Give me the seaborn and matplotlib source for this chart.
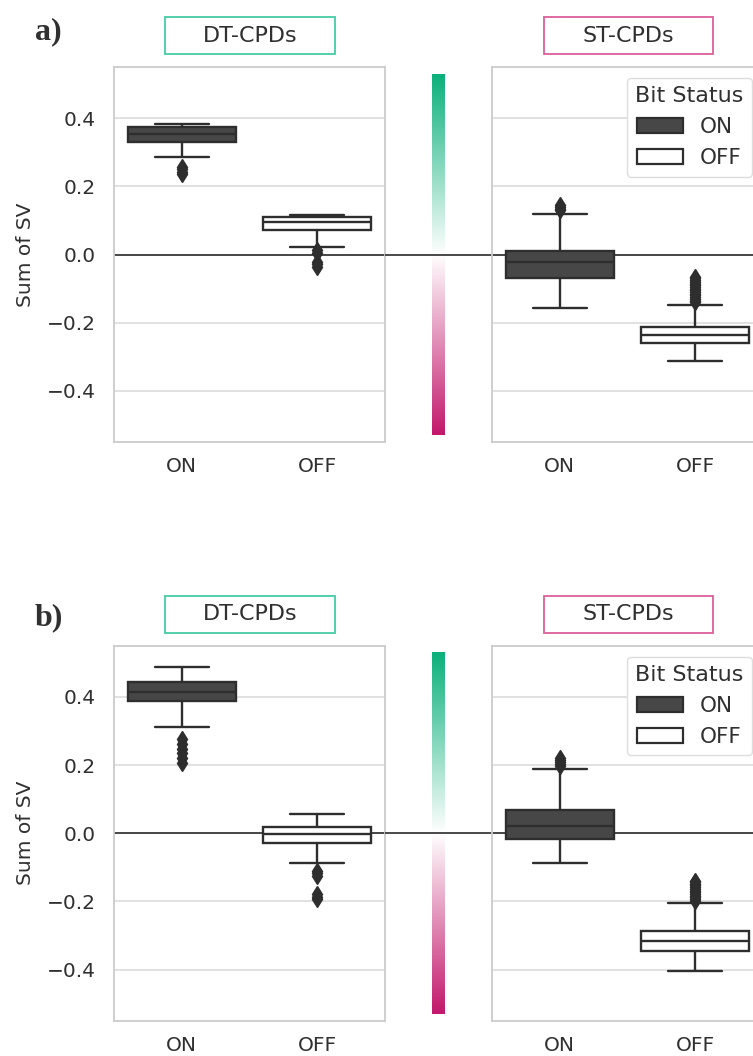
import numpy as np
import pandas as pd
import seaborn as sns
import matplotlib.pyplot as plt
from matplotlib.colors import LinearSegmentedColormap
from matplotlib.patches import Patch, Rectangle

groups = ["DT-CPDs", "ST-CPDs"]
status = ["ON", "OFF"]
panel_labels = ["a)", "b)"]
group_edge = ["#45cca5", "#dc5f9c"]
box_fill = {"ON": "#474747", "OFF": "#ffffff"}

# box stats, order: DT-ON, DT-OFF, ST-ON, ST-OFF
a_whislo = [0.287, 0.023, -0.156, -0.312]
a_q1 = [0.329, 0.072, -0.068, -0.260]
a_med = [0.353, 0.096, -0.023, -0.237]
a_q3 = [0.375, 0.109, 0.010, -0.213]
a_whishi = [0.384, 0.116, 0.119, -0.148]
a_fliers = [
    [0.257, 0.250, 0.243, 0.236],
    [0.012, 0.005, -0.022, -0.029, -0.036],
    [0.130, 0.135, 0.140, 0.145],
    [-0.140, -0.135, -0.130, -0.125, -0.120, -0.115, -0.110, -0.105,
     -0.100, -0.095, -0.090, -0.085, -0.080, -0.075, -0.070, -0.065],
]

b_whislo = [0.313, -0.086, -0.087, -0.403]
b_q1 = [0.387, -0.0275, -0.016, -0.344]
b_med = [0.415, -0.002, 0.022, -0.317]
b_q3 = [0.443, 0.0195, 0.068, -0.287]
b_whishi = [0.489, 0.0557, 0.1886, -0.204]
b_fliers = [
    [0.275, 0.262, 0.248, 0.234, 0.220, 0.206],
    [-0.110, -0.118, -0.126, -0.178, -0.186, -0.194],
    [0.198, 0.204, 0.210, 0.216, 0.222],
    [-0.198, -0.193, -0.188, -0.183, -0.178, -0.173, -0.168, -0.163,
     -0.158, -0.153, -0.148, -0.143, -0.140],
]


def box_rows(whislo, q1, med, q3, whishi, fliers):
    # rebuild a sample whose quartiles / whiskers / fliers match the read stats
    rows = []
    for i in range(4):
        n = len(fliers[i]) + 5
        vals = fliers[i] + [whislo[i], whishi[i]] + [q1[i]] * n + [med[i]] * n + [q3[i]] * n
        for v in vals:
            rows.append({"group": groups[i // 2], "Bit Status": status[i % 2], "Sum of SV": v})
    return pd.DataFrame(rows)


panels = [box_rows(a_whislo, a_q1, a_med, a_q3, a_whishi, a_fliers),
          box_rows(b_whislo, b_q1, b_med, b_q3, b_whishi, b_fliers)]

sns.set_theme(style="whitegrid")
plt.rcParams["font.family"] = ["DejaVu Sans"]
plt.rcParams["text.color"] = "#303030"
plt.rcParams["xtick.color"] = "#303030"
plt.rcParams["ytick.color"] = "#303030"
plt.rcParams["axes.labelcolor"] = "#303030"

line_c = "#2e2e2e"
fs = 14.5

green_cmap = LinearSegmentedColormap.from_list("g", ["#ffffff", "#0ab07a"])
pink_cmap = LinearSegmentedColormap.from_list("p", ["#c2176b", "#ffffff"])
gradient = np.linspace(0, 1, 256).reshape(-1, 1)

fig = plt.figure(figsize=(7.53, 10.56), dpi=100)
row_bottom = [0.5814, 0.0334]
row_label_y = [0.963, 0.408]
h = 0.3551

for r, df in enumerate(panels):
    b = row_bottom[r]
    ax_l = fig.add_axes([0.1514, b, 0.3599, h])
    ax_m = fig.add_axes([0.5113, b, 0.1421, h])
    ax_r = fig.add_axes([0.6534, b, 0.3599, h])

    for g, ax in enumerate([ax_l, ax_r]):
        ax.axhline(0, color="#3a3a3a", lw=1.3, zorder=0.8)
        sns.boxplot(data=df[df["group"] == groups[g]], x="Bit Status", y="Sum of SV",
                    hue="Bit Status", order=status, hue_order=status, palette=box_fill,
                    saturation=1, width=0.8, linecolor=line_c, linewidth=1.7,
                    fliersize=8, legend=False, ax=ax,
                    flierprops=dict(marker="d", markerfacecolor=line_c, markeredgecolor=line_c))
        ax.set_ylim(-0.55, 0.55)
        ax.set_xlim(-0.5, 1.5)
        ax.set_yticks([-0.4, -0.2, 0.0, 0.2, 0.4])
        ax.set_xlabel("")
        ax.grid(axis="y", color="#dcdcdc", lw=1.2)
        ax.grid(axis="x", visible=False)
        for sp in ax.spines.values():
            sp.set_color("#cccccc")
            sp.set_linewidth(1.3)
        ax.tick_params(axis="x", length=0, pad=11, labelsize=fs)
        ax.tick_params(axis="y", length=0, pad=13, labelsize=fs)

        ax.add_patch(Rectangle((0.19, 1.035), 0.625, 0.098, transform=ax.transAxes,
                               facecolor="white", edgecolor=group_edge[g], lw=1.3, clip_on=False))
        ax.text(0.5025, 1.084, groups[g], transform=ax.transAxes, ha="center", va="center",
                fontsize=16)

    ax_l.set_ylabel("Sum of SV", fontsize=fs)
    ax_l.yaxis.set_label_coords(-0.29, 0.5)
    ax_r.set_ylabel("")
    ax_r.tick_params(axis="y", labelleft=False)

    handles = [Patch(facecolor=box_fill[s], edgecolor=line_c, lw=1.6, label=s) for s in status]
    ax_r.legend(handles=handles, title="Bit Status", loc="upper right", fontsize=15.5,
                title_fontsize=16, handlelength=2.1, labelspacing=0.5, framealpha=1,
                edgecolor="#dddddd")

    # gradient bar between the two panels
    ax_m.imshow(gradient, cmap=green_cmap, origin="lower", aspect="auto",
                extent=[0.44, 0.56, 0.0, 0.53])
    ax_m.imshow(gradient, cmap=pink_cmap, origin="lower", aspect="auto",
                extent=[0.44, 0.56, -0.53, 0.0])
    ax_m.axhline(0, color="#3a3a3a", lw=1.3)
    ax_m.set_xlim(0, 1)
    ax_m.set_ylim(-0.55, 0.55)
    ax_m.axis("off")

    fig.text(0.046, row_label_y[r], panel_labels[r], family="Liberation Serif",
             weight="bold", fontsize=23, va="baseline")

fig.savefig("out.png", dpi=100)
